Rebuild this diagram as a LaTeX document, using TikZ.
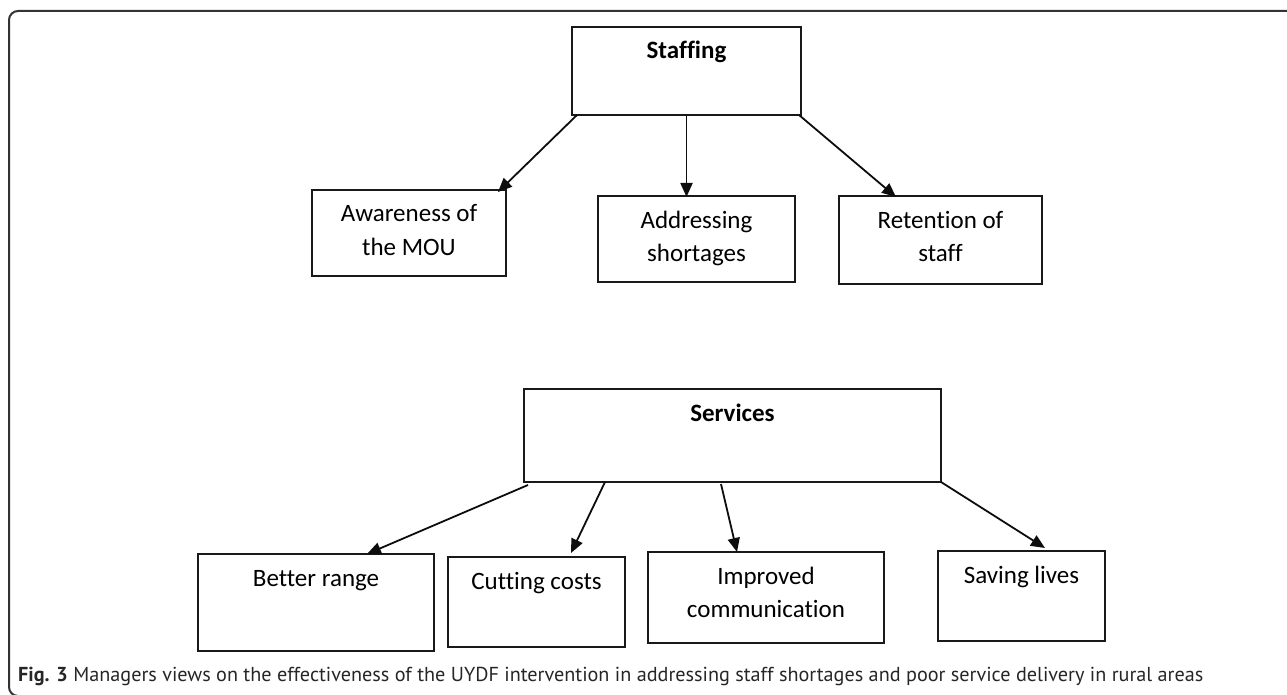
\documentclass[tikz,border=0pt]{standalone}
\usepackage{fontspec}
\setmainfont{Carlito}[Ligatures=NoCommon]
\newfontfamily\capfont{PT Sans}[Ligatures=NoCommon]
\usetikzlibrary{arrows.meta,calc}

% box content: fixed width/height, text hung from the top edge
\newcommand\boxtext[3]{%
  \parbox[c][#2pt][t]{#1pt}{\fontsize{25}{33.5}\selectfont\centering
    \rule{0pt}{32pt}#3}}

\begin{document}
\begin{tikzpicture}[x=1pt,y=-1pt,
  box/.style={draw=black!90, line width=1.4pt, inner sep=0pt, outer sep=0pt},
  link/.style={draw=black!95, line width=1.8pt, -{Triangle[length=14pt,width=12pt]}},
  frame/.style={draw=black!80, line width=2pt, rounded corners=9pt}]

\useasboundingbox (0,0) rectangle (1287,695);

% outer frame (open to the right and bottom)
\draw[frame] (1295,11) -- (9,11) -- (9,696) -- (60,696);

% staffing branch
\node[box] (staff)  at (686.5,71)  {\boxtext{229}{88}{\textbf{Staffing}}};
\node[box] (aware)  at (409,233)   {\boxtext{194}{86}{Awareness of\\the MOU}};
\node[box] (addr)   at (696.5,239) {\boxtext{197}{86}{Addressing\\shortages}};
\node[box] (retain) at (940.5,240) {\boxtext{203}{88}{Retention of\\staff}};

\draw[link] ($(staff.south west)+(5,0)$) -- ($(aware.north east)+(-8,2)$);
\draw[link] (staff.south) -- ($(staff.south |- addr.north)+(0,1)$);
\draw[link] ($(staff.south east)+(-2,0)$) -- ($(retain.north west)+(57,1)$);

% services branch
\node[box] (serv)   at (732.5,435.5) {\boxtext{417}{93}{\textbf{Services}}};
\node[box] (better) at (316,602.5)   {\boxtext{236}{97}{Better range}};
\node[box] (cut)    at (536.5,602)   {\boxtext{177}{90}{Cutting costs}};
\node[box] (improv) at (766,597.5)   {\boxtext{236}{91}{Improved\\communication}};
\node[box] (save)   at (1021.5,596)  {\boxtext{167}{90}{Saving lives}};

\draw[link] ($(serv.south west)+(4,3)$)   -- ($(better.north west)+(169,0)$);
\draw[link] ($(serv.south west)+(81,0)$)  -- ($(cut.north west)+(123,-4)$);
\draw[link] ($(serv.south west)+(197,2)$) -- ($(improv.north west)+(89,0)$);
\draw[link] (serv.south east)             -- ($(save.north west)+(107,-3)$);

% caption
\node[anchor=base west, inner sep=0pt, text=black!85] (cap) at (18,681)
  {\capfont\fontsize{20.2}{24}\selectfont\textbf{Fig. 3} Managers views on the effectiveness of the UYDF intervention in addressing staff shortages and poor service delivery in rural areas};
\end{tikzpicture}
\end{document}
